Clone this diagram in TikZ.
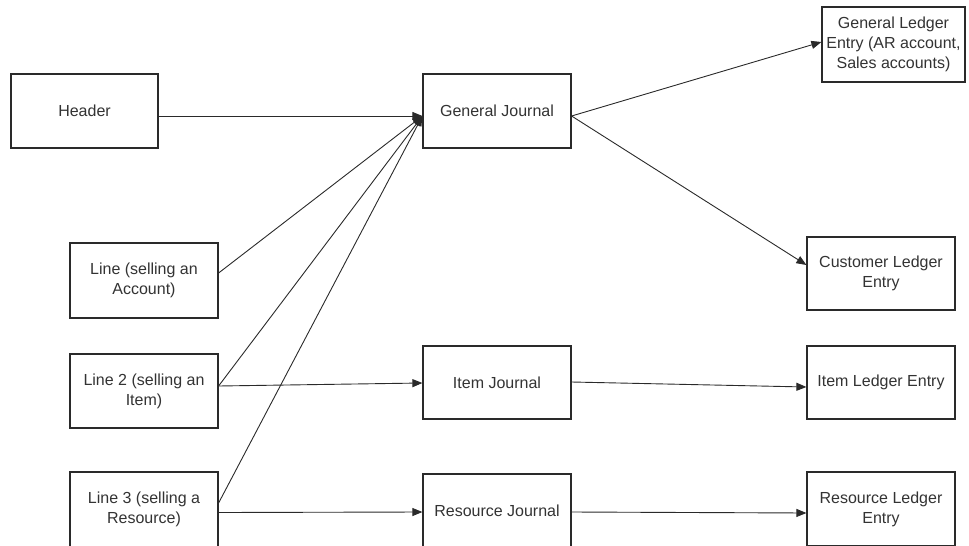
\documentclass[tikz,border=0pt]{standalone}
\usepackage{fontspec}
\setmainfont{Liberation Sans}
\usetikzlibrary{arrows.meta}
\definecolor{ink}{HTML}{2A2A2A}
\definecolor{txt}{HTML}{333333}
\begin{document}
\begin{tikzpicture}[x=1pt,y=-1pt,
  box/.style={draw=ink,line width=1.2pt,fill=white,align=center,
    inner sep=1pt,text=txt,font=\fontsize{16}{20}\selectfont},
  link/.style={draw=ink,line width=0.9pt},
  arr/.style={link,-{Triangle[length=10pt,width=8pt]}}]
  \useasboundingbox (0,0) rectangle (969,546);
  \clip (0,0) rectangle (969,546);

  % source boxes
  \node[box,minimum width=147pt,minimum height=74pt] (header) at (84.5,111) {Header};
  \node[box,minimum width=148pt,minimum height=75pt] (line1) at (144,280.5) {Line (selling an\\Account)};
  \node[box,minimum width=148pt,minimum height=74pt] (line2) at (144,391) {Line 2 (selling an\\Item)};
  \node[box,minimum width=148pt,minimum height=75pt] (line3) at (144,509.5) {Line 3 (selling a\\Resource)};

  % journals
  \node[box,minimum width=148pt,minimum height=74pt] (gj) at (497,111) {General Journal};
  \node[box,minimum width=148pt,minimum height=73pt] (ij) at (497,382.5) {Item Journal};
  \node[box,minimum width=148pt,minimum height=74pt] (rj) at (497,511) {Resource Journal};

  % ledger entries
  \node[box,minimum width=143pt,minimum height=75pt] (gl) at (893.5,44.5) {General Ledger\\Entry (AR account,\\Sales accounts)};
  \node[box,minimum width=148pt,minimum height=73pt] (cl) at (881,273.5) {Customer Ledger\\Entry};
  \node[box,minimum width=148pt,minimum height=73pt] (il) at (881,382.5) {Item Ledger Entry};
  \node[box,minimum width=148pt,minimum height=74pt] (rl) at (881,509) {Resource Ledger\\Entry};

  % attachment points on the box borders
  \coordinate (hOut) at ([yshift=-5pt]header.east);
  \coordinate (gjIn) at ([yshift=-5pt]gj.west);
  \coordinate (gjOut) at ([yshift=-5pt]gj.east);
  \coordinate (glIn) at ([yshift=2.5pt]gl.west);
  \coordinate (clIn) at ([yshift=8.5pt]cl.west);
  \coordinate (l1Out) at ([yshift=7.5pt]line1.east);
  \coordinate (l2Up) at ([yshift=5pt]line2.east);
  \coordinate (l2Out) at ([yshift=5pt]line2.east);
  \coordinate (ijIn) at ([yshift=-0.5pt]ij.west);
  \coordinate (ijOut) at ([yshift=0.5pt]ij.east);
  \coordinate (ilIn) at ([yshift=-4.5pt]il.west);
  \coordinate (l3Up) at ([yshift=6.5pt]line3.east);
  \coordinate (l3Out) at ([yshift=-3pt]line3.east);
  \coordinate (rjIn) at ([yshift=-1pt]rj.west);
  \coordinate (rjOut) at ([yshift=-1pt]rj.east);
  \coordinate (rlIn) at ([yshift=-4pt]rl.west);

  % everything feeding the general journal
  \draw[arr] (hOut) -- (gjIn);
  \draw[arr] (l1Out) -- (gjIn);
  \draw[arr] (l2Up) -- (gjIn);
  \draw[arr] (l3Up) -- (gjIn);

  % general journal postings
  \draw[arr] (gjOut) -- (glIn);
  \draw[arr] (gjOut) -- (clIn);

  % item and resource flows
  \draw[arr] (l2Out) -- (ijIn);
  \draw[arr] (ijOut) -- (ilIn);
  \draw[arr] (l3Out) -- (rjIn);
  \draw[arr] (rjOut) -- (rlIn);
\end{tikzpicture}
\end{document}
